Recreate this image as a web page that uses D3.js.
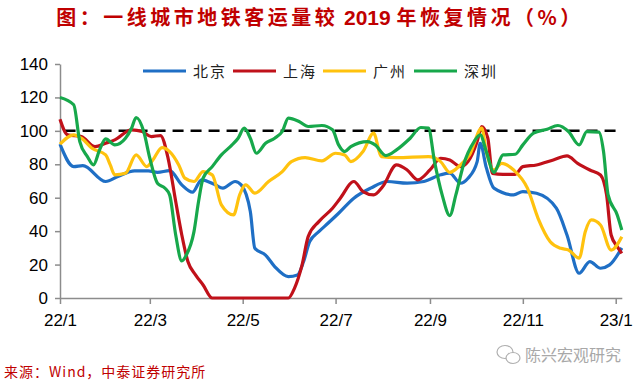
<!DOCTYPE html>
<html><head><meta charset="utf-8">
<script src="https://cdn.jsdelivr.net/npm/d3@7"></script>
<style>
html,body{margin:0;padding:0;background:#fff;}
svg{display:block;}
</style></head>
<body>
<svg id="chart" width="640" height="383"></svg>
<script>
// ---------- data ----------
const seriesNames = ["北京", "上海", "广州", "深圳"];
const xTickLabels = ["22/1", "22/3", "22/5", "22/7", "22/9", "22/11", "23/1"];
const xTickDates = ["2022-01-01","2022-03-01","2022-05-01","2022-07-01","2022-09-01","2022-11-01","2023-01-01"];
const yTicks = [0, 20, 40, 60, 80, 100, 120, 140];
const baseline = 100;
const titleParts = ["图：一线城市地铁客运量较", "\u00a02019\u00a0", "年恢复情况（%）"];

const bjDates = ["2022-01-01","2022-01-10","2022-01-16","2022-01-31","2022-02-08","2022-02-19","2022-02-28","2022-03-06","2022-03-14","2022-03-22","2022-03-29","2022-04-04","2022-04-13","2022-04-18","2022-04-26","2022-04-30","2022-05-06","2022-05-09","2022-05-16","2022-05-22","2022-05-31","2022-06-06","2022-06-10","2022-06-14","2022-06-20","2022-06-26","2022-07-03","2022-07-13","2022-07-24","2022-08-04","2022-08-17","2022-08-28","2022-09-08","2022-09-14","2022-09-21","2022-09-26","2022-10-02","2022-10-04","2022-10-08","2022-10-13","2022-10-26","2022-11-01","2022-11-10","2022-11-23","2022-11-30","2022-12-08","2022-12-15","2022-12-22","2022-12-28","2023-01-05"];
const bjValues = [92,78.6,79.2,69.7,72.7,76,76,75.2,76.2,67.7,63.3,70.7,67.7,65.7,69.7,67.7,51.7,29.7,25.7,18.8,12.8,13.8,21.8,33.7,39.7,44.7,50.7,59.7,65.7,69.7,68.7,69.7,73.7,74.7,68.7,71.7,81.6,92.6,78,65.7,61.7,63.7,62.7,53.7,37.7,14.8,21.8,17.8,19.8,30];

const shDates = ["2022-01-01","2022-01-06","2022-01-15","2022-01-24","2022-01-31","2022-02-06","2022-02-17","2022-02-24","2022-03-02","2022-03-08","2022-03-13","2022-03-18","2022-03-22","2022-03-26","2022-03-31","2022-04-05","2022-04-11","2022-05-31","2022-06-04","2022-06-09","2022-06-13","2022-06-20","2022-06-29","2022-07-04","2022-07-13","2022-07-19","2022-07-26","2022-08-01","2022-08-10","2022-08-17","2022-08-24","2022-09-01","2022-09-08","2022-09-14","2022-09-21","2022-09-26","2022-10-02","2022-10-05","2022-10-09","2022-10-12","2022-10-19","2022-10-27","2022-11-01","2022-11-10","2022-11-21","2022-11-30","2022-12-07","2022-12-15","2022-12-22","2022-12-26","2022-12-29","2023-01-02","2023-01-05"];
const shValues = [107,97.6,96.6,90.6,92.6,94.6,100.6,99.6,96.6,97.2,83.6,57.7,37.7,21.8,13.8,7.8,0,0,5.8,19.8,36.7,45.7,53.7,59.5,69.7,63.7,61.7,66.7,79.6,76.6,70.7,76.6,83.6,82.6,78.6,81.6,93.6,102.6,95.6,74.6,74,74,78.6,79.6,82.6,85,80.6,76.6,73.6,61.7,37.7,30.7,26.7];

const gzDates = ["2022-01-01","2022-01-10","2022-01-15","2022-01-22","2022-01-31","2022-02-03","2022-02-06","2022-02-13","2022-02-20","2022-02-27","2022-03-03","2022-03-09","2022-03-14","2022-03-20","2022-03-24","2022-03-30","2022-04-05","2022-04-11","2022-04-17","2022-04-25","2022-04-29","2022-05-03","2022-05-09","2022-05-18","2022-05-27","2022-06-02","2022-06-11","2022-06-22","2022-07-01","2022-07-07","2022-07-11","2022-07-19","2022-07-26","2022-07-31","2022-08-10","2022-08-31","2022-09-08","2022-09-14","2022-09-21","2022-09-27","2022-10-05","2022-10-08","2022-10-13","2022-10-18","2022-10-26","2022-11-04","2022-11-11","2022-11-19","2022-11-26","2022-12-01","2022-12-08","2022-12-12","2022-12-16","2022-12-22","2022-12-29","2023-01-05"];
const gzValues = [92,97.6,95.6,89.6,85.6,79.6,73.7,74.6,85.6,78.6,82.6,90,87.6,79.6,71.7,69.7,75.6,73.7,55.7,49.7,61.7,67.7,62.7,69.7,75.6,81.6,84,82,86.6,85.6,81.6,87.6,98.6,84.6,84,84.6,81.6,75.2,79.6,85.6,101.6,87.6,76.6,80.6,76.6,65.7,47.7,33.7,29.7,28.7,23.8,39.7,46.7,43.7,28.7,36.7];

const szDates = ["2022-01-01","2022-01-10","2022-01-14","2022-01-19","2022-01-23","2022-01-27","2022-01-31","2022-02-06","2022-02-13","2022-02-17","2022-02-20","2022-02-25","2022-03-01","2022-03-06","2022-03-11","2022-03-14","2022-03-18","2022-03-22","2022-03-25","2022-03-30","2022-04-02","2022-04-05","2022-04-11","2022-04-17","2022-04-24","2022-04-28","2022-05-02","2022-05-06","2022-05-10","2022-05-16","2022-05-22","2022-05-27","2022-05-31","2022-06-07","2022-06-13","2022-06-22","2022-06-29","2022-07-03","2022-07-07","2022-07-11","2022-07-22","2022-07-27","2022-08-03","2022-08-10","2022-08-19","2022-08-26","2022-08-31","2022-09-04","2022-09-09","2022-09-14","2022-09-18","2022-09-23","2022-09-30","2022-10-04","2022-10-08","2022-10-13","2022-10-19","2022-10-27","2022-11-01","2022-11-08","2022-11-17","2022-11-24","2022-12-01","2022-12-08","2022-12-13","2022-12-21","2022-12-24","2022-12-27","2023-01-02","2023-01-05"];
const szValues = [120,115.6,93.6,84.6,79.6,88.6,95.2,91.6,95.6,101.6,108,99.6,83.6,68.7,65.7,61.7,37.7,22.2,25.7,39.7,57.7,71.7,78.6,85.6,91.6,95.6,101.6,95.6,86.6,92.6,95.6,99.6,107.6,105.6,102.6,103.2,100.6,91.6,87.6,90.6,93.6,91.6,85.2,88.6,95.6,102,101.6,81.6,61.7,49.3,61.7,79.6,93.6,97.6,87.6,75.2,85.6,86,91.6,98.6,101,103.2,99.6,91.6,99.6,99.2,87.6,61.7,49.7,40.7];

const seriesDates = [bjDates, shDates, gzDates, szDates];
const seriesValues = [bjValues, shValues, gzValues, szValues];
const colors = ["#1f6fc5", "#c0111a", "#ffc20e", "#17a84b"];

// ---------- chart ----------
(function () {
const parse = d3.timeParse("%Y-%m-%d");
const svg = d3.select("#chart");
const mLeft = 60, mRight = 621.8, mTop = 64, mBottom = 298;

const x = d3.scaleTime()
  .domain([parse("2022-01-01"), parse("2023-01-05")])
  .range([mLeft, mRight]);
const y = d3.scaleLinear().domain([0, 140]).range([mBottom, mTop]);

// title
const title = svg.append("text")
  .attr("x", 320).attr("y", 25)
  .attr("text-anchor", "middle")
  .attr("fill", "#c00000")
  .style("font-family", "'Noto Sans CJK SC', 'Liberation Sans', sans-serif")
  .style("font-weight", "bold")
  .style("font-size", "20px");
titleParts.forEach((t, i) => {
  title.append("tspan")
    .style("letter-spacing", i === 1 ? "0px" : "3.5px")
    .style("font-family", i === 1 ? "'Liberation Sans', Arial, sans-serif" : null)
    .style("font-size", i === 1 ? "21px" : null)
    .text(t);
});

// baseline dashed
svg.append("line")
  .attr("x1", x(parse("2022-01-04"))).attr("x2", mRight)
  .attr("y1", y(baseline)).attr("y2", y(baseline))
  .attr("stroke", "#000").attr("stroke-width", 2.5)
  .attr("stroke-dasharray", "11,7");

// axes
const axisColor = "#8c8c8c";
const gy = svg.append("g").attr("transform", `translate(${mLeft},0)`)
  .call(d3.axisLeft(y).tickValues(yTicks).tickSize(5).tickSizeOuter(0).tickPadding(7));
const gx = svg.append("g").attr("transform", `translate(0,${mBottom})`)
  .call(d3.axisBottom(x).tickValues(xTickDates.map(parse)).tickSize(6).tickSizeOuter(0).tickPadding(10)
    .tickFormat((d, i) => xTickLabels[i]));
[gx, gy].forEach(g => {
  g.select(".domain").attr("stroke", axisColor).attr("stroke-width", 1.5);
  g.selectAll(".tick line").attr("stroke", axisColor).attr("stroke-width", 1.5);
  g.selectAll(".tick text")
    .attr("fill", "#000")
    .style("font-family", "'Liberation Sans', Arial, sans-serif")
    .style("font-size", "17px");
});

// lines
const line = d3.line()
  .x(d => x(d[0])).y(d => y(d[1]))
  .curve(d3.curveMonotoneX);
seriesNames.forEach((name, i) => {
  const pts = seriesDates[i].map((d, j) => [parse(d), seriesValues[i][j]]);
  svg.append("path")
    .datum(pts)
    .attr("d", line)
    .attr("fill", "none")
    .attr("stroke", colors[i])
    .attr("stroke-width", 3.2)
    .attr("stroke-linejoin", "round");
});

// legend
const legendX = [143, 233, 323, 414];
const lg = svg.append("g");
seriesNames.forEach((name, i) => {
  lg.append("line")
    .attr("x1", legendX[i]).attr("x2", legendX[i] + 43)
    .attr("y1", 71).attr("y2", 71)
    .attr("stroke", colors[i]).attr("stroke-width", 3);
  lg.append("text")
    .attr("x", legendX[i] + 50).attr("y", 76.5)
    .attr("fill", "#222")
    .style("font-family", "'Noto Sans CJK SC', sans-serif")
    .style("font-size", "15px")
    .style("letter-spacing", "2px")
    .text(name);
});

// source
svg.append("text")
  .attr("x", 4).attr("y", 377)
  .attr("fill", "#c00000")
  .style("font-family", "'Noto Sans CJK SC', sans-serif")
  .style("font-size", "14px")
  .style("letter-spacing", "1px")
  .text("来源：Wind，中泰证券研究所");

// watermark
const wm = svg.append("g").attr("fill", "none").attr("stroke", "#b0b0b0").attr("stroke-width", 1.2);
wm.append("ellipse").attr("cx", 505).attr("cy", 352).attr("rx", 8).attr("ry", 6.5);
wm.append("ellipse").attr("cx", 513).attr("cy", 358).attr("rx", 7).attr("ry", 5.5).attr("fill", "#fff");
svg.append("text")
  .attr("x", 525).attr("y", 361)
  .attr("fill", "#a8a8a8")
  .style("font-family", "'Noto Sans CJK SC', sans-serif")
  .style("font-size", "16px")
  .text("陈兴宏观研究");
})();
</script>
</body></html>
